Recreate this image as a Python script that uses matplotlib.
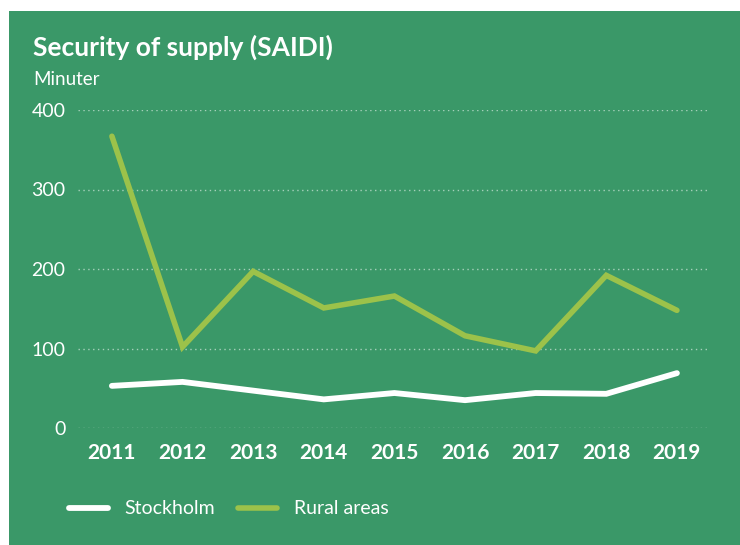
import matplotlib.pyplot as plt
from matplotlib.patches import Rectangle

# data
years = [2011, 2012, 2013, 2014, 2015, 2016, 2017, 2018, 2019]
stockholm = [53, 58, 47, 36, 44, 35, 44, 43, 69]
rural = [367, 102, 197, 151, 166, 116, 97, 192, 148]
y_ticks = [0, 100, 200, 300, 400]

BG = '#3a9868'
LIME = '#9cc24a'
W, H = 740, 545

plt.rcParams['font.family'] = ['Lato', 'DejaVu Sans']

fig = plt.figure(figsize=(W / 100, H / 100), dpi=100, facecolor='white')
fig.patches.append(Rectangle((9 / W, 0), 1, 1 - 11 / H, transform=fig.transFigure,
                             facecolor=BG, edgecolor='none', zorder=-10))

# axes placed in pixel terms: x 78..708, y 110..428
ax = fig.add_axes([78 / W, 1 - 428 / H, (708 - 78) / W, (428 - 110) / H])
ax.set_facecolor('none')
ax.set_xlim(2011 - 0.48, 2019 + 0.44)
ax.set_ylim(0, 400)

for v in y_ticks:
    ax.axhline(v, color='white', alpha=0.55, lw=1, ls=(0, (1, 2.5)), zorder=1)

ax.plot(years, stockholm, color='white', lw=4.2, solid_capstyle='round',
        solid_joinstyle='miter', zorder=3, label='Stockholm', clip_on=False)
ax.plot(years, rural, color=LIME, lw=4.0, solid_capstyle='round',
        solid_joinstyle='miter', zorder=3, label='Rural areas', clip_on=False)

ax.set_xticks(years)
ax.set_xticklabels([str(y) for y in years], fontsize=15, fontweight='bold', color='white')
ax.set_yticks(y_ticks)
ax.set_yticklabels([str(v) for v in y_ticks], fontsize=14, color='white')
ax.tick_params(axis='x', length=0, pad=11)
ax.tick_params(axis='y', length=0, pad=9)
for s in ax.spines.values():
    s.set_visible(False)

fig.text(33 / W, 1 - 47 / H, 'Security of supply (SAIDI)', fontsize=19, fontweight='bold',
         color='white', va='center', ha='left')
fig.text(33 / W, 1 - 79 / H, 'Minuter', fontsize=13.5, color='white', va='center', ha='left')

leg = fig.legend(loc='center left', bbox_to_anchor=(69 / W, 1 - 509 / H), ncol=2,
                 frameon=False, fontsize=14, handlelength=2.0, handletextpad=0.85,
                 columnspacing=1.2, borderpad=0, borderaxespad=0)
for t in leg.get_texts():
    t.set_color('white')

fig.savefig('out.png', dpi=100, facecolor=fig.get_facecolor())
